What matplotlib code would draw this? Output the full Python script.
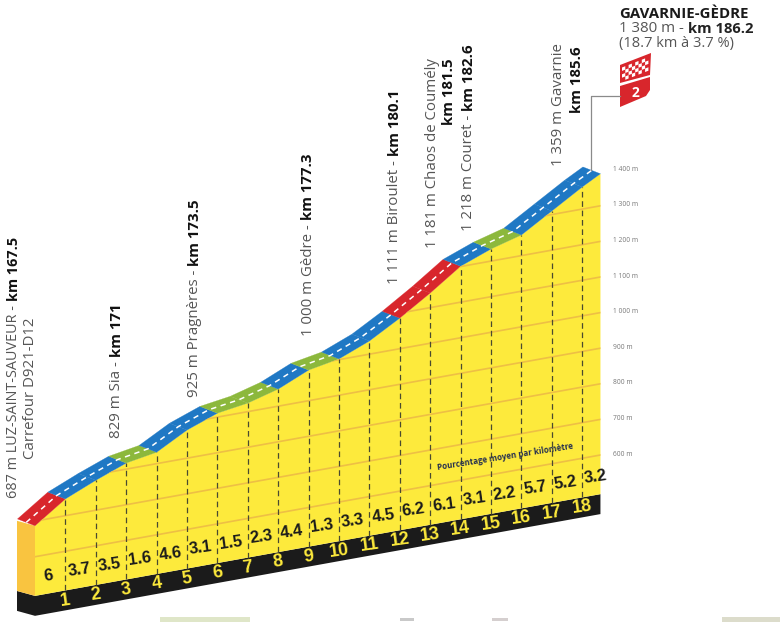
import matplotlib
matplotlib.use('Agg')
import matplotlib.pyplot as plt
from matplotlib.transforms import Affine2D
from matplotlib.patches import Polygon, Rectangle
import numpy as np

# profile
km = [0, 1, 2, 3, 4, 5, 6, 7, 8, 9, 10, 11, 12, 13, 14, 15, 16, 17, 18, 18.6]
elevation = [687, 747, 784, 817, 832, 879, 911, 924, 948, 986, 1002, 1037, 1086,
             1141, 1201, 1234, 1258, 1310, 1362, 1390]
gradient = [6, 3.7, 3.5, 1.6, 4.6, 3.1, 1.5, 2.3, 4.4, 1.3, 3.3, 4.5, 6.2, 6.1,
            3.1, 2.2, 5.7, 5.2, 3.2]
elev_ticks = [600, 700, 800, 900, 1000, 1100, 1200, 1300, 1400]

# place names and their km, same order as label_pos below
place_names = ['687 m LUZ-SAINT-SAUVEUR - ', '829 m Sia - ', '925 m Pragnères - ',
               '1 000 m Gèdre - ', '1 111 m Biroulet - ', '1 218 m Couret - ',
               'Carrefour D921-D12', '1 181 m Chaos de Coumély', '',
               '1 359 m Gavarnie', '']
place_km = ['km 167.5', 'km 171', 'km 173.5', 'km 177.3', 'km 180.1', 'km 182.6',
            '', '', 'km 181.5', '', 'km 185.6']

YELLOW = '#fdea3c'
GRID = '#eebf45'
SIDE = '#f9c440'
BLACK = '#1b1b1b'
GREY = '#555555'
RED = '#d8262c'
BLUE = '#1f78c4'
GREEN = '#8cb83c'

BASE = 490      # top of the black band
BAND = 434      # bottom of the black band
SIDE_KM = -0.592    # how far the block goes back
SIDE_M = 23
ROAD_KM = -0.576    # the road is a bit wider than that
ROAD_M = 28

plt.rcParams['font.family'] = ['Open Sans', 'DejaVu Sans']

fig = plt.figure(figsize=(7.8, 6.22), dpi=100)
ax = fig.add_axes([0, 0, 1, 1])
ax.set_xlim(0, 780)
ax.set_ylim(622, 0)
ax.axis('off')

# sheared km / metres to picture position
tr = Affine2D.from_values(30.4, -5.47, 0, -0.356, 35, 770.34) + ax.transData

km = np.array(km)
elevation = np.array(elevation)
end = km[-1]

# black band and side of the block
ax.fill([0, end, end, 0], [BASE, BASE, BAND, BAND], color=BLACK, lw=0, transform=tr)
ax.fill([0, SIDE_KM, SIDE_KM, 0], [BASE, BASE + SIDE_M, BAND + SIDE_M, BAND],
        color=BLACK, lw=0, transform=tr)
ax.fill([0, SIDE_KM, SIDE_KM, 0], [elevation[0], elevation[0] + SIDE_M, BASE + SIDE_M, BASE],
        color=SIDE, lw=0, transform=tr)

# yellow face
face = ax.fill(np.r_[km, end, 0], np.r_[elevation, BASE, BASE], color=YELLOW, lw=0, transform=tr)[0]

for e in elev_ticks[:-1]:
    line, = ax.plot([0, end], [e, e], color=GRID, lw=1.2, transform=tr)
    line.set_clip_path(face)

for k, e in zip(km[1:-1], elevation[1:-1]):
    ax.plot([k, k], [BASE, e], color='#4a4a30', lw=0.9, ls=(0, (4.5, 3)), transform=tr)

# road, coloured by the gradient of each km
for i, g in enumerate(gradient):
    c = RED if g >= 6 else BLUE if g >= 3 else GREEN
    xs = [km[i], km[i + 1], km[i + 1] + ROAD_KM, km[i] + ROAD_KM]
    ys = [elevation[i], elevation[i + 1], elevation[i + 1] + ROAD_M, elevation[i] + ROAD_M]
    ax.fill(xs, ys, color=c, lw=0.2, transform=tr)
ax.plot(km + ROAD_KM / 2, elevation + ROAD_M / 2, color='white', lw=1.1,
        ls=(0, (3.5, 3)), transform=tr)

# numbers on the block
for i, g in enumerate(gradient):
    ax.text(km[i] + 0.45, BASE + 50, str(g), family=['Liberation Sans Narrow', 'Liberation Sans'],
            fontsize=12, fontweight='bold', color=BLACK, rotation=8,
            ha='center', va='center', transform=tr)
for k in km[1:-1]:
    ax.text(k, (BASE + BAND) / 2, str(int(k)), family=['Liberation Sans Narrow', 'Liberation Sans'],
            fontsize=13, fontweight='bold', color=YELLOW, rotation=8,
            ha='center', va='center', transform=tr)

ax.text(505, 457, 'Pourcentage moyen par kilomètre', fontsize=5.8, fontweight='bold',
        color='#26304f', rotation=9, ha='center', va='center')

for e in elev_ticks:
    ax.text(613, 454 - (e - 600) * 0.356, f'{e // 1000} {e % 1000:03d} m' if e >= 1000 else f'{e} m',
            fontsize=4.8, color='#777777', ha='left', va='center')

# place names, normal part then bold part going upward
label_pos = [(14, 498), (117, 438), (195, 397), (308, 336), (395, 284), (469, 231),
             (31, 459), (432, 248), (449, 125), (559, 166), (577, 113)]
label_size = [10.4] + [10.8] * 10
for normal, bold, (x, y), fs in zip(place_names, place_km, label_pos, label_size):
    if normal:
        t = ax.text(x, y, normal, fontsize=fs, color=GREY, rotation=90, ha='center', va='bottom')
        fig.canvas.draw()
        box = t.get_window_extent().transformed(ax.transData.inverted())
        y = min(box.y0, box.y1)
    if bold:
        ax.text(x, y, bold, fontsize=fs, color='#111111', fontweight='bold',
                rotation=90, ha='center', va='bottom')

# finish line box
ax.text(619, 14, 'GAVARNIE-GÈDRE', fontsize=10.8, fontweight='bold', color='#1a1a1a', va='center')
t = ax.text(619, 29, '1 380 m - ', fontsize=10.8, color=GREY, va='center')
fig.canvas.draw()
box = t.get_window_extent().transformed(ax.transData.inverted())
ax.text(box.x1, 29, 'km 186.2', fontsize=10.6, fontweight='bold', color='#222222', va='center')
ax.text(619, 44, '(18.7 km à 3.7 %)', fontsize=10.5, color=GREY, va='center')

ax.plot([591, 591, 620], [170, 96, 96], color='#8a8a8a', lw=0.9)

ax.add_patch(Polygon([(620, 65), (651, 53), (650, 75), (620, 83)], color=RED, lw=0))
for col in range(8):
    for row in range(4):
        if (col + row) % 2 == 0:
            x0 = 622 + col * 3.3
            y0 = 67.5 - col * 1.3 + row * 3.4
            ax.add_patch(Polygon([(x0, y0), (x0 + 3.3, y0 - 1.3), (x0 + 3.3, y0 + 2.1), (x0, y0 + 3.4)],
                                 color='white', lw=0))
ax.add_patch(Polygon([(620, 86), (650, 77), (650, 90), (646, 96), (620, 107)], color=RED, lw=0))
ax.text(635, 93, '2', fontsize=10, fontweight='bold', color='white', ha='center', va='center')

# cut-off bits of the picture below the chart
ax.add_patch(Rectangle((160, 617), 90, 5, color='#dfe6c8', lw=0))
ax.add_patch(Rectangle((722, 617), 58, 5, color='#dcdccb', lw=0))
ax.add_patch(Rectangle((400, 618), 14, 3, color='#c9c9c9', lw=0))
ax.add_patch(Rectangle((492, 618), 16, 3, color='#d5cfcf', lw=0))

fig.savefig('out.png', dpi=100)
